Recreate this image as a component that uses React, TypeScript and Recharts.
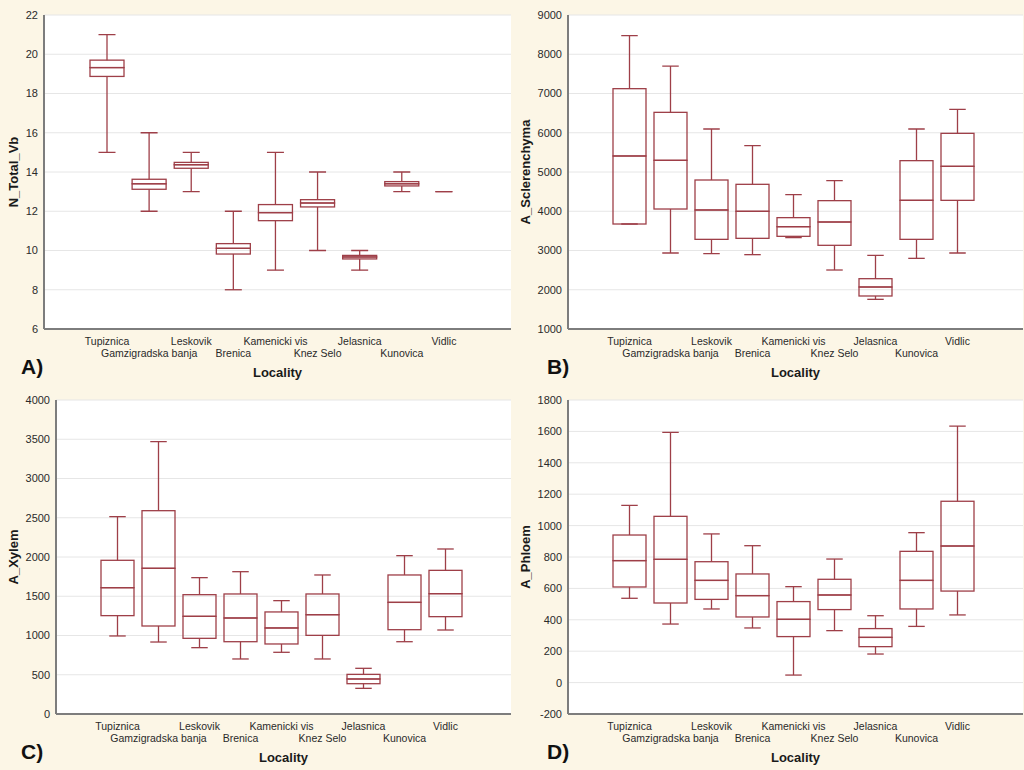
import React from 'react';
import { BarChart, Bar, XAxis, YAxis, CartesianGrid } from 'recharts';

const LOCALITIES = [
    'Tupiznica',
    'Gamzigradska banja',
    'Leskovik',
    'Brenica',
    'Kamenicki vis',
    'Knez Selo',
    'Jelasnica',
    'Kunovica',
    'Vidlic'
];

// A) N_Total_Vb
const nTotalMin = [15, 12, 13, 8, 9, 10, 9, 13, 13];
const nTotalQ1 = [18.87, 13.12, 14.19, 9.82, 11.52, 12.22, 9.57, 13.29, 13];
const nTotalMed = [19.32, 13.4, 14.37, 10.11, 11.93, 12.42, 9.67, 13.4, 13];
const nTotalQ3 = [19.7, 13.63, 14.49, 10.35, 12.34, 12.59, 9.75, 13.51, 13];
const nTotalMax = [21, 16, 15, 12, 15, 14, 10, 14, 13];
const nTotalTicks = [6, 8, 10, 12, 14, 16, 18, 20, 22];

// B) A_Sclerenchyma
const sclMin = [3675, 2936, 2919, 2894, 3327, 2503, 1756, 2800, 2936];
const sclQ1 = [3675, 4057, 3284, 3310, 3361, 3132, 1841, 3284, 4278];
const sclMed = [5408, 5297, 4032, 3998, 3607, 3726, 2070, 4278, 5144];
const sclQ3 = [7123, 6520, 4796, 4686, 3837, 4270, 2282, 5289, 5985];
const sclMax = [8473, 7700, 6096, 5671, 4423, 4779, 2877, 6096, 6597];
const sclTicks = [1000, 2000, 3000, 4000, 5000, 6000, 7000, 8000, 9000];

// C) A_Xylem
const xylMin = [994, 917, 845, 701, 786, 701, 327, 921, 1070];
const xylQ1 = [1253, 1121, 964, 921, 892, 1002, 386, 1074, 1240];
const xylMed = [1609, 1856, 1244, 1223, 1096, 1265, 446, 1422, 1533];
const xylQ3 = [1958, 2590, 1520, 1529, 1300, 1529, 505, 1771, 1830];
const xylMax = [2514, 3469, 1737, 1813, 1444, 1771, 582, 2017, 2102];
const xylTicks = [0, 500, 1000, 1500, 2000, 2500, 3000, 3500, 4000];

// D) A_Phloem
const phlMin = [537, 373, 469, 348, 48, 331, 182, 358, 431];
const phlQ1 = [609, 507, 530, 418, 293, 465, 229, 469, 583];
const phlMed = [777, 785, 651, 554, 403, 558, 288, 651, 870];
const phlQ3 = [940, 1059, 770, 692, 516, 658, 344, 836, 1155];
const phlMax = [1129, 1594, 947, 872, 611, 787, 426, 955, 1634];
const phlTicks = [-200, 0, 200, 400, 600, 800, 1000, 1200, 1400, 1600, 1800];

const BOX = '#9e3f48';
const FRAME = '#7d7d7d';
const FONT = '"Liberation Sans", Arial, sans-serif';
const LW = 1.3;

const buildRows = (mn: number[], q1: number[], med: number[], q3: number[], mx: number[]) =>
    LOCALITIES.map((name, i) => ({
        name,
        base: mn[i],
        wLow: q1[i] - mn[i],
        bLow: med[i] - q1[i],
        bHigh: q3[i] - med[i],
        wHigh: mx[i] - q3[i]
    }));

const WhiskerLow = (props: any) => {
    const { x, y, width, height } = props;
    const cx = x + width / 2;
    const bottom = y + Math.abs(height);
    return (
        <g>
            <line x1={cx} x2={cx} y1={y} y2={bottom} stroke={BOX} strokeWidth={LW} />
            <line x1={cx - width / 4} x2={cx + width / 4} y1={bottom} y2={bottom} stroke={BOX} strokeWidth={LW} />
        </g>
    );
};

const WhiskerHigh = (props: any) => {
    const { x, y, width, height } = props;
    const cx = x + width / 2;
    const bottom = y + Math.abs(height);
    return (
        <g>
            <line x1={cx} x2={cx} y1={y} y2={bottom} stroke={BOX} strokeWidth={LW} />
            <line x1={cx - width / 4} x2={cx + width / 4} y1={y} y2={y} stroke={BOX} strokeWidth={LW} />
        </g>
    );
};

const BoxHalf = (props: any) => {
    const { x, y, width, height } = props;
    return (
        <rect x={x} y={y} width={width} height={Math.abs(height)} fill="none" stroke={BOX} strokeWidth={LW} />
    );
};

const LocalityTick = (props: any) => {
    const { x, y, payload, index } = props;
    const row = (payload?.index ?? index) % 2;
    return (
        <text
            x={x}
            y={y + (row === 0 ? 8 : 20)}
            textAnchor="middle"
            fontSize={10.5}
            fontFamily={FONT}
            fill="#2a2a2a"
        >
            {payload.value}
        </text>
    );
};

interface PanelProps {
    rows: ReturnType<typeof buildRows>;
    yLabel: string;
    letter: string;
    letterX: number;
    domain: [number, number];
    ticks: number[];
    yWidth: number;
    padLeft: number;
    padRight: number;
    barSize: number;
}

const Panel: React.FC<PanelProps> = ({ rows, yLabel, letter, letterX, domain, ticks, yWidth, padLeft, padRight, barSize }) => (
    <BarChart
        width={512}
        height={385}
        data={rows}
        margin={{ top: 15, right: 1, bottom: 0, left: 0 }}
        barSize={barSize}
        style={{ fontFamily: FONT }}
    >
        <CartesianGrid horizontal vertical={false} stroke="#e6e6e6" strokeWidth={1} fill="#ffffff" fillOpacity={1} />
        <XAxis
            dataKey="name"
            height={56}
            interval={0}
            padding={{ left: padLeft, right: padRight }}
            axisLine={{ stroke: FRAME, strokeWidth: 2 }}
            tickLine={false}
            tick={<LocalityTick />}
            label={(p: any) => {
                const vb = p.viewBox;
                return (
                    <g>
                        <text
                            x={vb.x + vb.width / 2}
                            y={vb.y + 48}
                            textAnchor="middle"
                            fontSize={13}
                            fontWeight="bold"
                            fontFamily={FONT}
                            fill="#1a1a1a"
                        >
                            Locality
                        </text>
                        <text x={letterX} y={vb.y + 45} fontSize={21} fontWeight="bold" fontFamily={FONT} fill="#111">
                            {letter}
                        </text>
                    </g>
                );
            }}
        />
        <XAxis
            xAxisId="top"
            orientation="top"
            dataKey="name"
            height={0}
            tick={false}
            tickLine={false}
            axisLine={{ stroke: FRAME, strokeWidth: 2 }}
        />
        <YAxis
            type="number"
            domain={domain}
            ticks={ticks}
            allowDataOverflow
            interval={0}
            width={yWidth}
            axisLine={{ stroke: FRAME, strokeWidth: 2 }}
            tickLine={false}
            tickSize={4}
            tickMargin={2}
            tick={{ fontSize: 11, fill: '#2a2a2a', fontFamily: FONT }}
            label={(p: any) => {
                const vb = p.viewBox;
                const cy = vb.y + vb.height / 2;
                return (
                    <text
                        x={13}
                        y={cy}
                        transform={`rotate(-90, 13, ${cy})`}
                        textAnchor="middle"
                        dominantBaseline="central"
                        fontSize={13}
                        fontWeight="bold"
                        fontFamily={FONT}
                        fill="#1a1a1a"
                    >
                        {yLabel}
                    </text>
                );
            }}
        />
        <YAxis
            yAxisId="right"
            orientation="right"
            type="number"
            domain={domain}
            ticks={ticks}
            allowDataOverflow
            interval={0}
            width={0}
            mirror
            tickSize={3}
            tick={() => null}
            tickLine={{ stroke: '#555', strokeWidth: 1 }}
            axisLine={{ stroke: FRAME, strokeWidth: 2 }}
        />
        <Bar dataKey="base" stackId="box" shape={() => null} isAnimationActive={false} />
        <Bar dataKey="wLow" stackId="box" shape={<WhiskerLow />} isAnimationActive={false} />
        <Bar dataKey="bLow" stackId="box" shape={<BoxHalf />} isAnimationActive={false} />
        <Bar dataKey="bHigh" stackId="box" shape={<BoxHalf />} isAnimationActive={false} />
        <Bar dataKey="wHigh" stackId="box" shape={<WhiskerHigh />} isAnimationActive={false} />
    </BarChart>
);

const nTotalRows = buildRows(nTotalMin, nTotalQ1, nTotalMed, nTotalQ3, nTotalMax);
const sclRows = buildRows(sclMin, sclQ1, sclMed, sclQ3, sclMax);
const xylRows = buildRows(xylMin, xylQ1, xylMed, xylQ3, xylMax);
const phlRows = buildRows(phlMin, phlQ1, phlMed, phlQ3, phlMax);

const cell = (left: number, top: number): React.CSSProperties => ({
    position: 'absolute',
    left,
    top,
    width: 512,
    height: 385
});

export default function App() {
    return (
        <div
            style={{
                position: 'fixed',
                left: 0,
                top: 0,
                width: 1024,
                height: 770,
                background: '#fcf6e6',
                fontFamily: FONT,
                overflow: 'hidden'
            }}
        >
            <div style={cell(0, 0)}>
                <Panel
                    rows={nTotalRows}
                    yLabel="N_Total_Vb"
                    letter="A)"
                    letterX={21}
                    domain={[6, 22]}
                    ticks={nTotalTicks}
                    yWidth={44}
                    padLeft={42}
                    padRight={46}
                    barSize={34}
                />
            </div>
            <div style={cell(512, 0)}>
                <Panel
                    rows={sclRows}
                    yLabel="A_Sclerenchyma"
                    letter="B)"
                    letterX={35}
                    domain={[1000, 9000]}
                    ticks={sclTicks}
                    yWidth={56}
                    padLeft={41}
                    padRight={45}
                    barSize={33}
                />
            </div>
            <div style={cell(0, 385)}>
                <Panel
                    rows={xylRows}
                    yLabel="A_Xylem"
                    letter="C)"
                    letterX={21}
                    domain={[0, 4000]}
                    ticks={xylTicks}
                    yWidth={56}
                    padLeft={41}
                    padRight={45}
                    barSize={33}
                />
            </div>
            <div style={cell(512, 385)}>
                <Panel
                    rows={phlRows}
                    yLabel="A_Phloem"
                    letter="D)"
                    letterX={35}
                    domain={[-200, 1800]}
                    ticks={phlTicks}
                    yWidth={56}
                    padLeft={41}
                    padRight={45}
                    barSize={33}
                />
            </div>
        </div>
    );
}
